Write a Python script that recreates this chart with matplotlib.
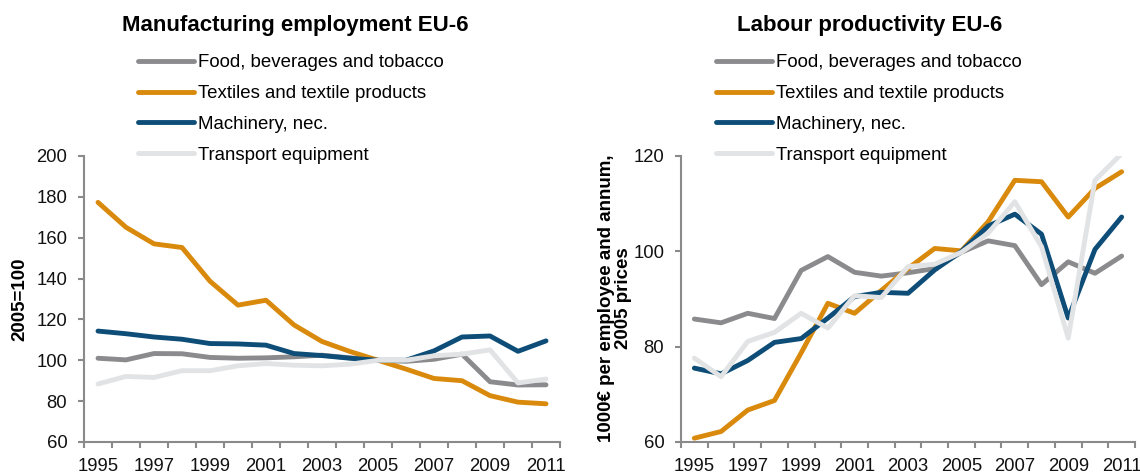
import numpy as np
import matplotlib
matplotlib.use("Agg")
import matplotlib.pyplot as plt

plt.rcParams['font.family'] = ['Liberation Sans', 'DejaVu Sans']

# data
years = list(range(1995, 2012))
series_names = ["Food, beverages and tobacco", "Textiles and textile products",
                "Machinery, nec.", "Transport equipment"]
colors = ["#8b8b8e", "#d98a0c", "#0d4d77", "#e2e3e5"]

# manufacturing employment, 2005=100
emp_food = [101.0, 100.2, 103.3, 103.2, 101.4, 101.0, 101.2, 101.7, 102.5, 101.2,
            100.0, 99.5, 100.5, 103.0, 89.5, 87.9, 88.0]
emp_textiles = [177.3, 165.1, 157.0, 155.2, 138.7, 127.0, 129.4, 117.3, 109.2, 104.3,
                100.0, 95.7, 91.1, 90.0, 82.7, 79.5, 78.7]
emp_machinery = [114.3, 113.0, 111.4, 110.3, 108.2, 108.0, 107.4, 103.3, 102.3, 101.0,
                 100.0, 100.0, 104.6, 111.4, 111.9, 104.4, 109.5]
emp_transport = [88.4, 92.1, 91.6, 94.9, 94.9, 97.3, 98.4, 97.6, 97.3, 98.1,
                 100.0, 100.0, 102.2, 103.0, 105.1, 88.9, 90.8]

# labour productivity, 1000 EUR per employee, 2005 prices
prod_food = [85.8, 85.0, 87.0, 85.9, 96.0, 98.9, 95.6, 94.8, 95.5, 96.4,
             99.8, 102.2, 101.2, 93.0, 97.8, 95.4, 99.0]
prod_textiles = [60.8, 62.2, 66.7, 68.7, 78.7, 89.1, 87.0, 91.8, 96.4, 100.6,
                 100.1, 106.2, 114.9, 114.6, 107.2, 113.2, 116.7]
prod_machinery = [75.5, 74.3, 77.1, 80.9, 81.7, 86.0, 90.5, 91.4, 91.2, 96.1,
                  100.0, 105.3, 107.8, 103.6, 86.0, 100.4, 107.2]
prod_transport = [77.6, 73.7, 81.1, 83.0, 87.0, 83.9, 90.7, 90.3, 96.8, 97.3,
                  99.8, 103.8, 110.4, 101.0, 81.8, 114.9, 120.5]

W, H = 1140, 476
fig = plt.figure(figsize=(W / 100, H / 100), dpi=100)

def px_axes(x0, x1, ytop, ybot):
    return fig.add_axes([x0 / W, 1 - ybot / H, (x1 - x0) / W, (ybot - ytop) / H])

ax1 = px_axes(84, 560, 156, 442)
ax2 = px_axes(681, 1135, 156, 442)

axis_grey = "#8a8a8a"

def style(ax, data, ylo, yhi):
    for vals, c, name in zip(data, colors, series_names):
        ax.plot(years, vals, color=c, lw=3.5, label=name,
                solid_capstyle='round', solid_joinstyle='round')
    ax.set_xlim(years[0] - 0.5, years[-1] + 0.5)
    ax.set_ylim(ylo, yhi)
    ax.set_yticks(np.arange(ylo, yhi + 1, 20))
    ax.set_xticks(years[::2])
    ax.set_xticks(np.arange(years[0] - 0.5, years[-1] + 1), minor=True)
    ax.tick_params(axis='x', which='major', length=0, pad=11.5, labelsize=13.3, labelcolor="#111111")
    ax.tick_params(axis='x', which='minor', length=4, width=1.5, color=axis_grey)
    ax.tick_params(axis='y', length=4, width=1.5, color=axis_grey, pad=8,
                   labelsize=13.3, labelcolor="#111111")
    for s in ['top', 'right']:
        ax.spines[s].set_visible(False)
    for s in ['left', 'bottom']:
        ax.spines[s].set_color(axis_grey)
        ax.spines[s].set_linewidth(1.5)
    ax.patch.set_alpha(0)

style(ax1, [emp_food, emp_textiles, emp_machinery, emp_transport], 60, 200)
style(ax2, [prod_food, prod_textiles, prod_machinery, prod_transport], 60, 120)

fig.text(295 / W, 1 - 26 / H, "Manufacturing employment EU-6", ha='center', va='center',
         fontsize=16, fontweight='bold')
fig.text(870 / W, 1 - 26 / H, "Labour productivity EU-6", ha='center', va='center',
         fontsize=16, fontweight='bold')

fig.text(20 / W, 1 - 299 / H, "2005=100", rotation=90, ha='center', va='center',
         fontsize=13.5, fontweight='bold')
fig.text(615 / W, 1 - 298 / H, "1000€ per employee and annum,\n2005 prices", rotation=90,
         ha='center', va='center', fontsize=13.5, fontweight='bold', linespacing=1.0)

for ax, xl in [(ax1, 138), (ax2, 716)]:
    ax.legend(loc='upper left', bbox_to_anchor=(xl / W, 1 - 54 / H),
              bbox_transform=fig.transFigure, frameon=False, fontsize=13.4,
              handlelength=3.0, handletextpad=0.2, labelspacing=0.75,
              borderpad=0, borderaxespad=0)

fig.savefig("out.png", dpi=100)
